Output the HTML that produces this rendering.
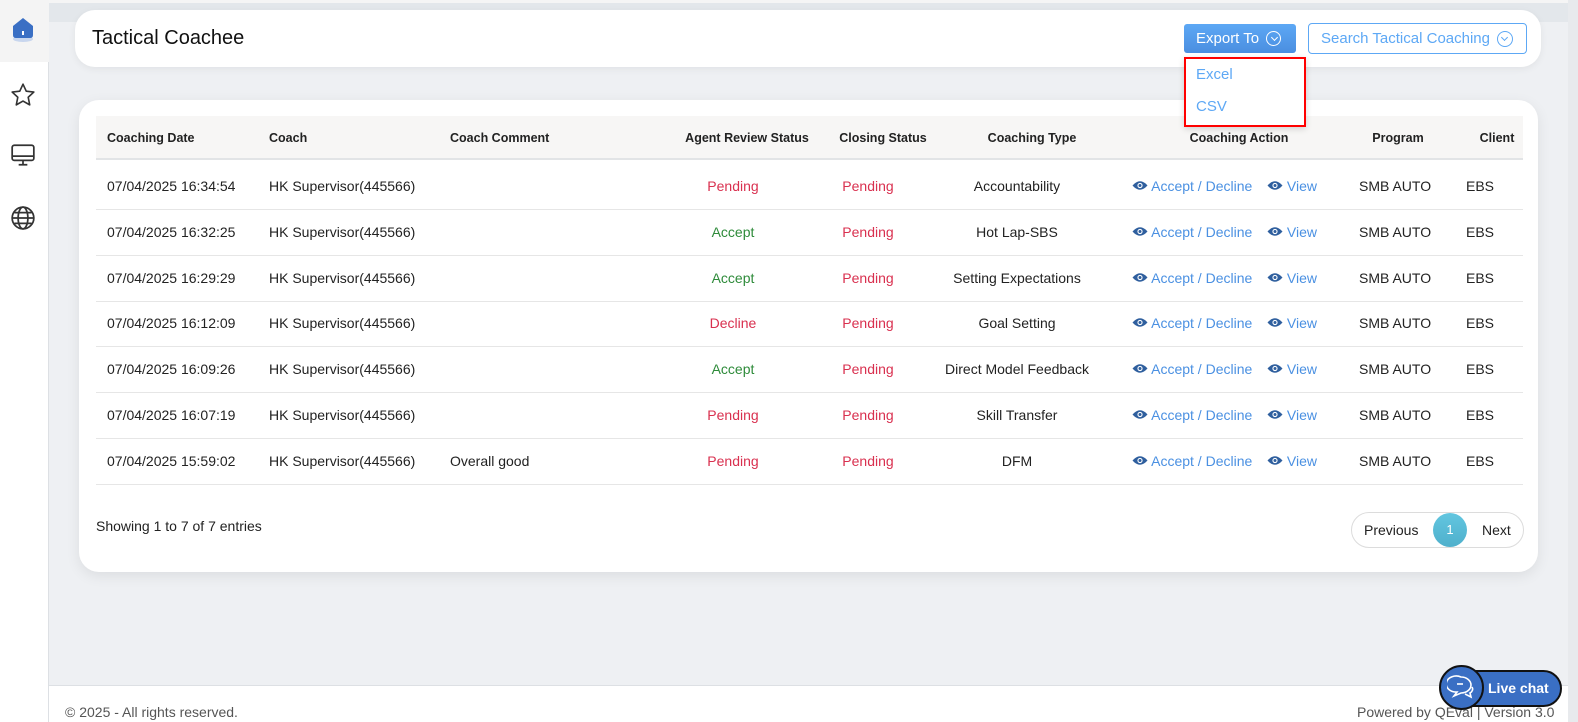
<!DOCTYPE html>
<html><head><meta charset="utf-8"><style>
*{box-sizing:border-box;margin:0;padding:0}
body{width:1578px;height:722px;overflow:hidden;background:#eef0f3;font-family:"Liberation Sans",Arial,sans-serif;position:relative;color:#222}
.a{position:absolute;white-space:nowrap}
.side{left:0;top:0;width:49px;height:722px;background:#fff;border-right:1px solid #dde0e4}
.card{background:#fff;border-radius:20px;box-shadow:0 2px 8px rgba(0,0,0,.06)}
.th{font-size:12.5px;font-weight:bold;color:#222;top:131px}
.td{font-size:14px}
.red{color:#d9304f}.grn{color:#2e8b3a}.blu{color:#4a90e2}
.c{transform:translateX(-50%)}
.line{left:96px;width:1427px;height:1px;background:#e6e6e6}
.btn{display:flex;align-items:center}
.chev{display:inline-block;width:15px;height:15px;border-radius:50%;margin-left:7px;position:relative}
.chev:after{content:"";position:absolute;left:4.5px;top:3px;width:4px;height:4px;border-right:1.3px solid currentColor;border-bottom:1.3px solid currentColor;transform:rotate(45deg)}
</style></head><body>
<div class="a" style="left:49px;top:0;width:1520px;height:22px;background:#e3e7eb"></div>
<div class="a" style="left:0;top:0;width:1578px;height:3px;background:#f5f5f5"></div>
<div class="a" style="left:1568px;top:0;width:10px;height:722px;background:#e8eaed"></div>
<div class="a side"></div>
<div class="a" style="left:0;top:0;width:49px;height:62px;background:#f4f4f4"></div>
<svg class="a" style="left:10px;top:16px" width="26" height="30" viewBox="0 0 26 30"><ellipse cx="13" cy="23" rx="10" ry="3" fill="#c8d6ee"/><path d="M3 10 L13 2 L23 10 L23 19 Q23 22 20 22 L6 22 Q3 22 3 19Z" fill="#3a6fc4"/><rect x="12" y="15" width="2" height="4" fill="#fff"/></svg>
<svg class="a" style="left:10px;top:82px" width="26" height="26" viewBox="0 0 24 24"><path d="M12 2l3 6.5 7 .8-5.2 4.8 1.4 7L12 17.6 5.8 21.1l1.4-7L2 9.3l7-.8z" fill="none" stroke="#333" stroke-width="1.5" stroke-linejoin="round"/></svg>
<svg class="a" style="left:10px;top:142px" width="26" height="26" viewBox="0 0 24 24"><rect x="2" y="3" width="20" height="14" rx="2" fill="none" stroke="#333" stroke-width="1.6"/><path d="M2 13h20M12 17v4M8 21h8" stroke="#333" stroke-width="1.6"/></svg>
<svg class="a" style="left:10px;top:205px" width="26" height="26" viewBox="0 0 24 24" fill="none" stroke="#333" stroke-width="1.6"><circle cx="12" cy="12" r="10"/><ellipse cx="12" cy="12" rx="4.5" ry="10"/><path d="M2 12h20M4 7h16M4 17h16"/></svg>

<div class="a card" style="left:75px;top:10px;width:1466px;height:57px"></div>
<div class="a" style="left:92px;top:27px;font-size:20px;color:#111">Tactical Coachee</div>
<div class="a btn" style="left:1184px;top:24px;width:112px;height:29px;border-radius:3px;background:linear-gradient(#5da8f5,#4a8ee0);color:#fff;font-size:15px;padding-left:12px">Export To <span class="chev" style="border:1.3px solid #fff"></span></div>
<div class="a btn" style="left:1308px;top:23px;width:219px;height:31px;border:1px solid #5da8f5;border-radius:4px;color:#5da8f5;font-size:15px;padding-left:12px;background:#fff">Search Tactical Coaching <span class="chev" style="border:1.3px solid #5da8f5;width:16px;height:16px"></span></div>

<div class="a card" style="left:79px;top:100px;width:1459px;height:472px;box-shadow:0 4px 14px rgba(0,0,0,.08)"></div>
<div class="a" style="left:96px;top:116px;width:1427px;height:44px;background:#f7f6f5;border-bottom:2px solid #e2e4e6"></div>
<div class="a th" style="left:107px">Coaching Date</div>
<div class="a th" style="left:269px">Coach</div>
<div class="a th" style="left:450px">Coach Comment</div>
<div class="a th c" style="left:747px">Agent Review Status</div>
<div class="a th c" style="left:883px">Closing Status</div>
<div class="a th c" style="left:1032px">Coaching Type</div>
<div class="a th c" style="left:1239px">Coaching Action</div>
<div class="a th c" style="left:1398px">Program</div>
<div class="a th c" style="left:1497px">Client</div>

<div id="rows"></div>
<script>
var d=[["16:34:54","","Pending","Accountability"],["16:32:25","","Accept","Hot Lap-SBS"],["16:29:29","","Accept","Setting Expectations"],["16:12:09","","Decline","Goal Setting"],["16:09:26","","Accept","Direct Model Feedback"],["16:07:19","","Pending","Skill Transfer"],["15:59:02","Overall good","Pending","DFM"]];
var eye='<svg width="16" height="11" viewBox="0 0 16 11" style="vertical-align:0"><path d="M0.5 5.5Q8 -3 15.5 5.5Q8 14 0.5 5.5Z" fill="#2f5f9e"/><circle cx="8" cy="5.5" r="2.6" fill="#fff"/><circle cx="8" cy="5.5" r="1.5" fill="#2f5f9e"/></svg>';
var h='';
d.forEach(function(r,i){var y=178+i*45.8;
var cl=r[2]=="Accept"?"grn":"red";
h+='<div class="a td" style="left:107px;top:'+y+'px">07/04/2025 '+r[0]+'</div>';
h+='<div class="a td" style="left:269px;top:'+y+'px">HK Supervisor(445566)</div>';
h+='<div class="a td" style="left:450px;top:'+y+'px">'+r[1]+'</div>';
h+='<div class="a td c '+cl+'" style="left:733px;top:'+y+'px">'+r[2]+'</div>';
h+='<div class="a td c red" style="left:868px;top:'+y+'px">Pending</div>';
h+='<div class="a td c" style="left:1017px;top:'+y+'px">'+r[3]+'</div>';
h+='<div class="a td blu" style="left:1132px;top:'+y+'px">'+eye+' Accept / Decline</div>';
h+='<div class="a td blu" style="left:1267px;top:'+y+'px">'+eye+' View</div>';
h+='<div class="a td" style="left:1359px;top:'+y+'px">SMB AUTO</div>';
h+='<div class="a td" style="left:1466px;top:'+y+'px">EBS</div>';
h+='<div class="a line" style="top:'+(y+31)+'px"></div>';
});
document.getElementById('rows').innerHTML=h;
</script>
<div class="a" style="left:96px;top:518px;font-size:14px">Showing 1 to 7 of 7 entries</div>
<div class="a" style="left:1351px;top:512px;width:173px;height:36px;border:1px solid #dcdcdc;border-radius:18px;background:#fff"></div>
<div class="a" style="left:1364px;top:522px;font-size:14px">Previous</div>
<div class="a" style="left:1433px;top:513px;width:34px;height:34px;border-radius:50%;background:linear-gradient(#62c6e0,#4fb0cc);color:#fff;font-size:13px;text-align:center;line-height:34px">1</div>
<div class="a" style="left:1482px;top:522px;font-size:14px">Next</div>

<div class="a" style="left:1184px;top:57px;width:122px;height:70px;background:#fff;border:2px solid #f00;box-shadow:0 2px 6px rgba(0,0,0,.15)"></div>
<div class="a blu" style="left:1196px;top:66px;font-size:15px;color:#5da8f5">Excel</div>
<div class="a blu" style="left:1196px;top:98px;font-size:15px;color:#5da8f5">CSV</div>

<div class="a" style="left:49px;top:685px;width:1519px;height:37px;background:#fff;border-top:1px solid #dde0e4"></div>
<div class="a" style="left:65px;top:704px;font-size:14px;color:#555">© 2025 - All rights reserved.</div>
<div class="a" style="left:1357px;top:704px;font-size:14px;color:#555">Powered by QEval | Version 3.0</div>
<div class="a" style="left:1449px;top:670px;width:113px;height:37px;border-radius:19px;background:#3a6fc4;border:2px solid #111"></div>
<div class="a" style="left:1488px;top:680px;font-size:14px;font-weight:bold;color:#fff">Live chat</div>
<div class="a" style="left:1439px;top:665px;width:45px;height:45px;border-radius:50%;background:#3a6fc4;border:2px solid #111"></div>
<svg class="a" style="left:1447px;top:674px" width="30" height="28" viewBox="0 0 30 28" fill="none" stroke="#fff" stroke-width="1.6"><path d="M14 3a10 8 0 1 0 -4 15l-3 4 7-3a10 8 0 0 0 0-16z"/><path d="M10 10h6"/><path d="M18 20l6 3-1-4a7 5 0 0 0 2-6"/></svg>
</body></html>
